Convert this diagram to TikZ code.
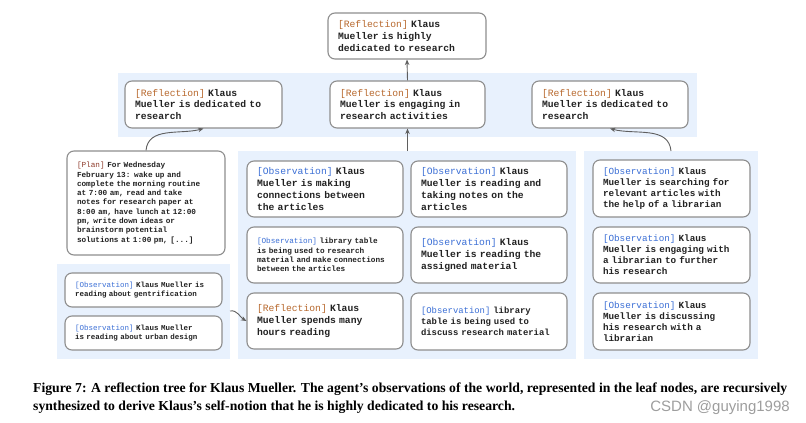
\documentclass[tikz,border=0pt]{standalone}
\usepackage{fontspec}
\setmainfont{Liberation Serif}
\newfontfamily\mono{Liberation Mono}
\newfontfamily\wmfont{Liberation Sans}
\usetikzlibrary{arrows.meta}
\definecolor{bandblue}{HTML}{E8F1FD}
\definecolor{cardline}{HTML}{8E8E8E}
\definecolor{refltag}{HTML}{B8692E}
\definecolor{obstag}{HTML}{3B6FD6}
\definecolor{plantag}{HTML}{8E3B2B}
\definecolor{arrowc}{HTML}{5F5F5F}
\definecolor{bodytext}{HTML}{222222}
\newcommand{\rtag}{{\mdseries\color{refltag}[Reflection]}}
\newcommand{\otag}{{\mdseries\color{obstag}[Observation]}}
\newcommand{\ptag}{{\mdseries\color{plantag}[Plan]}}
\newcommand{\szbig}{\fontsize{9.7}{11.7}\selectfont}
\newcommand{\szright}{\fontsize{9.3}{11}\selectfont}
\newcommand{\szmid}{\fontsize{8.9}{10.7}\selectfont}
\newcommand{\szsm}{\fontsize{7.7}{9.3}\selectfont}
\newcommand{\szxs}{\fontsize{7.5}{9.3}\selectfont}
\tikzset{
  card/.style={draw=cardline, line width=1.1pt, rounded corners=7pt, fill=white,
    inner xsep=10pt, inner ysep=0pt, align=left, text=bodytext},
  band/.style={fill=bandblue, draw=none},
  conn/.style={draw=arrowc, line width=0.9pt, -{Stealth[length=5.5pt,width=4.5pt]}},
  captext/.style={anchor=base west, inner sep=0pt, font=\fontsize{13.7}{16}\selectfont\bfseries}
}
% name, x1, y1, x2, y2, size, text
\newcommand{\cardbox}[7]{%
  \pgfmathsetmacro\cw{#4-#2}%
  \pgfmathsetmacro\ch{#5-#3}%
  \pgfmathsetmacro\tw{#4-#2-20}%
  \node[card, font={\mono\bfseries#6}, minimum width=\cw pt, minimum height=\ch pt,
        text width=\tw pt] (#1) at ({(#2+#4)/2},{(#3+#5)/2}) {#7};%
}
\begin{document}
\begin{tikzpicture}[x=1pt,y=-1pt]
\useasboundingbox (0,0) rectangle (806,423);
\fill[white] (0,0) rectangle (806,423);
% bands
\path[band] (118,73) rectangle (697,137);
\path[band] (238,151) rectangle (576,359);
\path[band] (584,151) rectangle (758,359);
\path[band] (57,264) rectangle (230,359);
\coordinate (midtop) at (407.5,151);
\coordinate (righttop) at (671,151);
\coordinate (leftright) at (230,311);
% top
\cardbox{top}{328}{13}{486}{59}{\szbig}{\rtag{} Klaus\\Mueller is highly\\dedicated to research}
% reflection row
\cardbox{r1}{125}{81}{282}{128}{\szbig}{\rtag{} Klaus\\Mueller is dedicated to\\research}
\cardbox{r2}{330}{81}{485}{128}{\szbig}{\rtag{} Klaus\\Mueller is engaging in\\research activities}
\cardbox{r3}{532}{81}{688}{128}{\szbig}{\rtag{} Klaus\\Mueller is dedicated to\\research}
% plan
\cardbox{plan}{67}{151}{225}{255}{\szsm}{\ptag{} For Wednesday\\February 13: wake up and\\complete the morning routine\\at 7:00 am, read and take\\notes for research paper at\\8:00 am, have lunch at 12:00\\pm, write down ideas or\\brainstorm potential\\solutions at 1:00 pm, [...]}
% left band
\cardbox{og}{65}{273}{222}{307}{\szxs}{\otag{} Klaus Mueller is\\reading about gentrification}
\cardbox{ou}{65}{316}{222}{350}{\szxs}{\otag{} Klaus Mueller\\is reading about urban design}
% middle band
\cardbox{m11}{247}{161}{403}{217}{\szbig}{\otag{} Klaus\\Mueller is making\\connections between\\the articles}
\cardbox{m21}{247}{227}{403}{283}{\szsm}{\otag{} library table\\is being used to research\\material and make connections\\between the articles}
\cardbox{m31}{247}{293}{403}{349}{\szbig}{\rtag{} Klaus\\Mueller spends many\\hours reading}
\cardbox{m12}{411}{161}{567}{217}{\szbig}{\otag{} Klaus\\Mueller is reading and\\taking notes on the\\articles}
\cardbox{m22}{411}{227}{567}{283}{\szbig}{\otag{} Klaus\\Mueller is reading the\\assigned material}
\cardbox{m32}{411}{293}{567}{350}{\szmid}{\otag{} library\\table is being used to\\discuss research material}
% right band
\cardbox{q1}{593}{160}{750}{217}{\szright}{\otag{} Klaus\\Mueller is searching for\\relevant articles with\\the help of a librarian}
\cardbox{q2}{593}{227}{750}{283}{\szright}{\otag{} Klaus\\Mueller is engaging with\\a librarian to further\\his research}
\cardbox{q3}{593}{293}{750}{350}{\szright}{\otag{} Klaus\\Mueller is discussing\\his research with a\\librarian}
% connectors
\draw[conn] (r2.north) -- (top.south);
\draw[conn] (midtop) -- (r2.south);
\draw[conn] (plan.north) to[out=85,in=-165] (r1.south);
\draw[conn] (righttop) to[out=95,in=-15] (r3.south);
\draw[conn] (leftright) to[out=10,in=150] (m31.west);
% caption
\node[captext] (cap1) at (33,392)
  {Figure 7: A reflection tree for Klaus Mueller. The agent’s observations of the world, represented in the leaf nodes, are recursively};
\node[captext] (cap2) at (33,410)
  {synthesized to derive Klaus’s self-notion that he is highly dedicated to his research.};
\node[anchor=base east, inner sep=0pt, text=black!38, font=\wmfont\fontsize{15}{17}\selectfont] (wm) at (790,411) {CSDN @guying1998};
\end{tikzpicture}
\end{document}
